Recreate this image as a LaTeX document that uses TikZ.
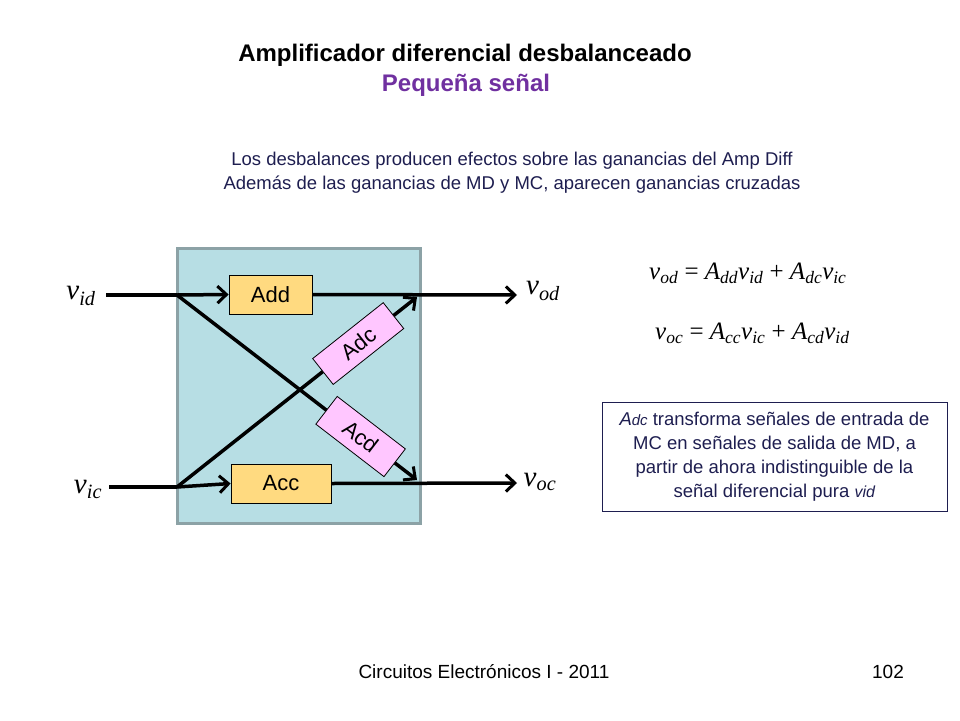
\documentclass[tikz,border=0pt]{standalone}
\usepackage{fontspec}
\setmainfont{Liberation Sans}
\newfontfamily\ser{Liberation Serif}
\usetikzlibrary{arrows.meta,calc}
\pgfdeclarelayer{back}
\pgfdeclarelayer{mid}
\pgfsetlayers{back,mid,main}
\definecolor{boxblue}{RGB}{183,222,228}
\definecolor{boxedge}{RGB}{140,162,166}
\definecolor{gold}{RGB}{255,218,128}
\definecolor{pinkbox}{RGB}{255,198,255}
\definecolor{purp}{RGB}{112,48,160}
\definecolor{navy}{RGB}{30,30,80}
\newcommand\mv[2]{{\ser\itshape #1}\textsubscript{\ser\itshape #2}}
\tikzset{
  sig/.style={line width=3.5pt,-{Straight Barb[length=9pt,width=17pt,line width=3pt]}},
  wire/.style={line width=3.5pt},
  gbox/.style={draw=black,line width=0.8pt,fill=gold,minimum width=83pt,minimum height=39pt,inner sep=0pt,font=\fontsize{22}{24}\selectfont},
  pbox/.style={draw=black,line width=0.8pt,fill=pinkbox,minimum width=90pt,minimum height=33pt,inner sep=0pt,font=\fontsize{22}{24}\selectfont},
  vlab/.style={font=\fontsize{29}{30}\selectfont,inner sep=0pt},
  eq/.style={font=\fontsize{25}{28}\selectfont,inner sep=0pt,anchor=west}
}
\begin{document}
\begin{tikzpicture}[x=1pt,y=-1pt]
\useasboundingbox (0,0) rectangle (960,720);
% titles
\node[font=\fontsize{24}{28}\selectfont\bfseries,text=black] (t1) at (465,55) {Amplificador diferencial desbalanceado};
\node[font=\fontsize{24}{28}\selectfont\bfseries,text=purp] (t2) at (466,85) {Pequeña señal};
\node[font=\fontsize{18.5}{24}\selectfont,text=navy,align=center] (sub) at (512,173) {Los desbalances producen efectos sobre las ganancias del Amp Diff\\Además de las ganancias de MD y MC, aparecen ganancias cruzadas};
% block
\begin{pgfonlayer}{back}
\node[draw=boxedge,line width=2.5pt,fill=boxblue,minimum width=243pt,minimum height=275pt,inner sep=0pt] (blk) at (299,386) {};
\end{pgfonlayer}
% coordinates
\coordinate (idin) at (106,295);
\coordinate (idb) at (177,295);
\coordinate (icin) at (109,487);
\coordinate (icb) at (177,487);
\coordinate (odout) at (517,295);
\coordinate (ocout) at (517,483);
\coordinate (dctip) at (417,297);
\coordinate (cdtip) at (417,480);
% gain boxes
\node[gbox] (add) at (270.5,294.5) {Add};
\node[gbox,minimum width=100pt] (acc) at (281,483.5) {Acc};
\node[pbox,rotate=38.4] (adc) at ($(icb)!0.755!(dctip)$) {Adc};
\node[pbox,rotate=-37.6,minimum width=86pt,minimum height=35pt] (acd) at ($(idb)!0.765!(cdtip)$) {Acd};
% wires
\begin{pgfonlayer}{mid}
\draw[wire] (idin) -- (idb);
\draw[sig] (idb) -- (add.west);
\draw[sig] (add.east) -- (odout);
\draw[wire] (icin) -- (icb);
\draw[sig] (icb) -- (acc.west);
\draw[sig] (acc.east) -- (ocout);
\draw[sig] (idb) -- (cdtip);
\draw[sig] (icb) -- (dctip);
\end{pgfonlayer}
% labels
\node[vlab] (lvid) at (81,296) {\mv{v}{id}};
\node[vlab] (lvic) at (88,489) {\mv{v}{ic}};
\node[vlab] (lvod) at (543,291) {\mv{v}{od}};
\node[vlab] (lvoc) at (540,482) {\mv{v}{oc}};
% equations
\node[eq] (e1) at (649,273) {\mv{v}{od}{\ser\ = }\mv{A}{dd}\mv{v}{id}{\ser\ + }\mv{A}{dc}\mv{v}{ic}};
\node[eq] (e2) at (655,333) {\mv{v}{oc}{\ser\ = }\mv{A}{cc}\mv{v}{ic}{\ser\ + }\mv{A}{cd}\mv{v}{id}};
% note box
\node[draw=navy,line width=0.8pt,minimum width=345pt,minimum height=109pt,text=navy,align=center,font=\fontsize{18.5}{24}\selectfont] (note) at (774.5,456.5) {\textit{A{\fontsize{15}{16}\selectfont dc}} transforma señales de entrada de\\MC en señales de salida de MD, a\\partir de ahora indistinguible de la\\señal diferencial pura \textit{{\fontsize{16}{16}\selectfont vid}}};
% footer
\node[font=\fontsize{19}{22}\selectfont] (foot) at (484,672) {Circuitos Electrónicos I - 2011};
\node[font=\fontsize{19}{22}\selectfont] (pg) at (888,672) {102};
\end{tikzpicture}
\end{document}
